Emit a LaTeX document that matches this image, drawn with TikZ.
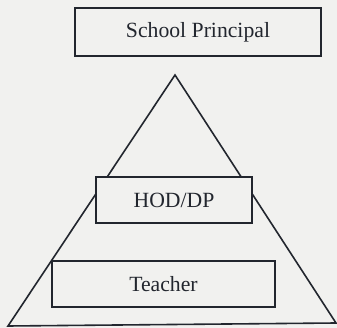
\documentclass[tikz,border=0pt]{standalone}
\usepackage{fontspec}
\setmainfont{Liberation Serif}
\usetikzlibrary{shapes}
\definecolor{paper}{RGB}{241,241,239}
\definecolor{ink}{RGB}{34,38,46}

\begin{document}
\begin{tikzpicture}[x=1pt,y=-1pt,line width=1.6pt,draw=ink,
  box/.style={rectangle,draw=ink,fill=paper,inner sep=0pt,
    font=\fontsize{21.7}{26}\selectfont,text=ink}]
  \fill[paper] (0,0) rectangle (337,328);
  \useasboundingbox (0,0) rectangle (337,328);
  % the pyramid behind the boxes
  \coordinate (a) at (175,75);
  \coordinate (b) at (336,323);
  \coordinate (c) at (8,326);
  \draw[ink] (a) -- (b) -- (c) -- cycle;
  \node at (198,32) (1) [box,minimum width=246pt,minimum height=48pt] {School Principal};
  \node at (174,200) (2) [box,minimum width=156pt,minimum height=46pt] {HOD/DP};
  \node at (163.5,284) (3) [box,minimum width=223pt,minimum height=46pt] {Teacher};
\end{tikzpicture}
\end{document}
